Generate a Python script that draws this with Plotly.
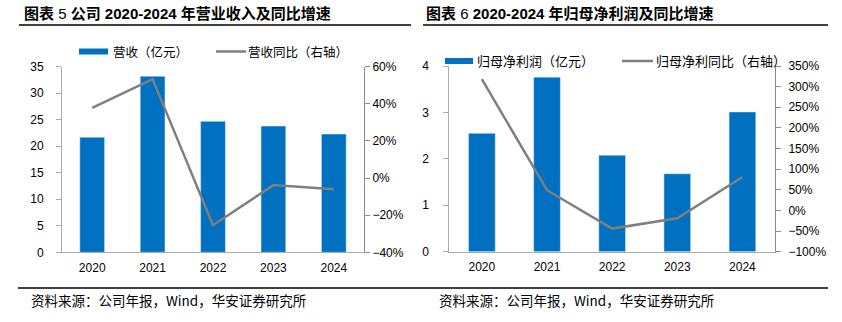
import plotly.graph_objects as go

W, H = 842, 322

# ---- data ----
years = ["2020", "2021", "2022", "2023", "2024"]

revenue = [21.7, 33.2, 24.7, 23.8, 22.3]          # 营收（亿元）
revenue_yoy = [37.8, 53.3, -25.4, -3.8, -6.0]     # 营收同比（%）

net_profit = [2.55, 3.76, 2.08, 1.68, 3.01]       # 归母净利润（亿元）
net_profit_yoy = [318, 49, -44, -19, 81]          # 归母净利同比（%）

legend_left = ["营收（亿元）", "营收同比（右轴）"]
legend_right = ["归母净利润（亿元）", "归母净利同比（右轴）"]
source_text = "资料来源：公司年报，Wind，华安证券研究所"

BLUE = "#0070c0"
GREY = "#7f7f7f"
AXIS = "#ababab"
AXIS_R = "#8a8a8a"
CJK = "Noto Sans CJK SC"
LAT = "Liberation Sans, Arial, Noto Sans CJK SC"


def px(x):
    return x / W


def py(y):
    return 1 - y / H


fig = go.Figure()

# left panel: revenue
fig.add_trace(go.Bar(x=years, y=revenue, marker_color=BLUE, width=0.41,
                     xaxis="x", yaxis="y", showlegend=False))
fig.add_trace(go.Scatter(x=years, y=revenue_yoy, mode="lines",
                         line=dict(color=GREY, width=2.5),
                         xaxis="x", yaxis="y2", showlegend=False))

# right panel: net profit
fig.add_trace(go.Bar(x=years, y=net_profit, marker_color=BLUE, width=0.41,
                     xaxis="x2", yaxis="y3", showlegend=False))
fig.add_trace(go.Scatter(x=years, y=net_profit_yoy, mode="lines",
                         line=dict(color=GREY, width=2.5),
                         xaxis="x2", yaxis="y4", showlegend=False))

tickfont = dict(family=LAT, size=12, color="#000000")

common_x = dict(type="category", showline=True, linecolor=AXIS, linewidth=1,
                ticks="", showgrid=False, zeroline=False, tickfont=tickfont,
                range=[-0.5, 4.5], fixedrange=True, ticklabelstandoff=4,
                automargin=False)
common_y = dict(showline=True, linewidth=1, ticks="outside",
                ticklen=5, showgrid=False, zeroline=False,
                tickfont=tickfont, fixedrange=True, automargin=False)
left_y = dict(linecolor=AXIS, tickcolor=AXIS, **common_y)
right_y = dict(linecolor=AXIS_R, tickcolor=AXIS_R, **common_y)

L_dom_x = [px(62), px(364)]
L_dom_y = [py(252.3), py(66.7)]
R_dom_x = [px(449.3), px(775)]
R_dom_y = [py(251.7), py(66)]

fig.update_layout(
    width=W, height=H, autosize=False,
    margin=dict(l=0, r=0, t=0, b=0, pad=0, autoexpand=False),
    paper_bgcolor="white", plot_bgcolor="white",
    showlegend=False,
    xaxis=dict(domain=L_dom_x, anchor="y", **common_x),
    yaxis=dict(domain=L_dom_y, anchor="x", range=[0, 35], dtick=5,
               ticklabelstandoff=10, **left_y),
    yaxis2=dict(overlaying="y", side="right", anchor="x", range=[-40, 60],
                dtick=20, ticksuffix="%", ticklabelstandoff=0, **right_y),
    xaxis2=dict(domain=R_dom_x, anchor="y3", **common_x),
    yaxis3=dict(domain=R_dom_y, anchor="x2", range=[0, 4], dtick=1,
                ticklabelstandoff=12, **left_y),
    yaxis4=dict(overlaying="y3", side="right", anchor="x2", range=[-100, 350],
                dtick=50, ticksuffix="%", ticklabelstandoff=5, **right_y),
)

shapes = []
annotations = []

# titles with rules underneath
title_parts = [
    ("<b>图表</b> 5 <b>公司 2020-2024 年营业收入及同比增速</b>", 22, 19, 411),
    ("<b>图表</b> 6 <b>2020-2024 年归母净利润及同比增速</b>", 424, 423, 828),
]
for text, tx, lx0, lx1 in title_parts:
    annotations.append(dict(text=text, x=px(tx), y=py(13), xref="paper",
                            yref="paper", xanchor="left", yanchor="middle",
                            showarrow=False,
                            font=dict(family=LAT, size=15, color="#000000")))
    shapes.append(dict(type="line", xref="paper", yref="paper",
                       x0=px(lx0), x1=px(lx1), y0=py(25), y1=py(25),
                       line=dict(color="#000000", width=1.5)))


# legends drawn as swatches plus labels
def add_legend(labels, yc, sw0, sw1, tx0, ln0, ln1, tx1, size):
    shapes.append(dict(type="rect", xref="paper", yref="paper",
                       x0=px(sw0), x1=px(sw1), y0=py(yc + 3), y1=py(yc - 3),
                       fillcolor=BLUE, line=dict(width=0)))
    shapes.append(dict(type="line", xref="paper", yref="paper",
                       x0=px(ln0), x1=px(ln1), y0=py(yc), y1=py(yc),
                       line=dict(color=GREY, width=2.5)))
    for lab, x in ((labels[0], tx0), (labels[1], tx1)):
        annotations.append(dict(text=lab, x=px(x), y=py(yc), xref="paper",
                                yref="paper", xanchor="left", yanchor="middle",
                                showarrow=False,
                                font=dict(family=CJK, size=size,
                                          color="#000000")))


add_legend(legend_left, 51.5, 79, 108, 111, 216, 246, 246, 12.5)
add_legend(legend_right, 61, 445, 473, 475, 622, 653, 654, 13)

# footer rule and sources
shapes.append(dict(type="line", xref="paper", yref="paper",
                   x0=px(18), x1=px(828), y0=py(288), y1=py(288),
                   line=dict(color="#000000", width=1.5)))
for x in (29, 437):
    annotations.append(dict(text=source_text, x=px(x), y=py(300),
                            xref="paper", yref="paper", xanchor="left",
                            yanchor="middle", showarrow=False,
                            font=dict(family=CJK, size=13.5,
                                      color="#000000")))

fig.update_layout(shapes=shapes, annotations=annotations)

page_reset = (
    "document.documentElement.style.margin='0';"
    "document.documentElement.style.overflow='hidden';"
    "document.body.style.margin='0';"
    "document.body.style.overflow='hidden';"
)
fig.write_html("out.html", post_script=page_reset)
